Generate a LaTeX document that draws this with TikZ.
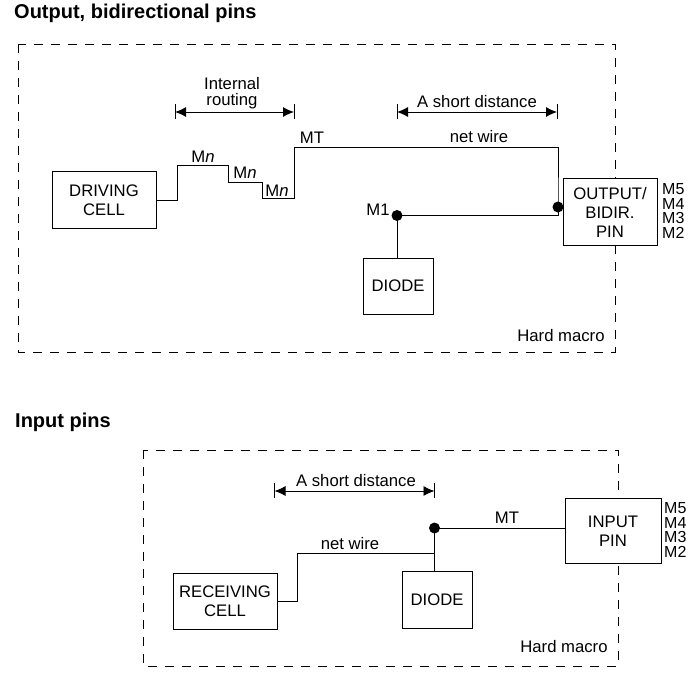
\documentclass[tikz,border=0pt]{standalone}
\usepackage{fontspec}
\setmainfont{Liberation Sans}
\usetikzlibrary{arrows.meta,calc}
\tikzset{
  block/.style={draw,fill=white,line width=0.9pt,align=center,inner sep=0pt,font=\fontsize{16.7}{19}\selectfont},
  wire/.style={line width=0.9pt},
  frameline/.style={line width=1pt,dash pattern=on 9pt off 8pt},
  span/.style={line width=0.9pt,{Latex[length=11pt,width=10pt]}-{Latex[length=11pt,width=10pt]}},
  spantick/.style={line width=0.7pt},
  lbl/.style={inner sep=0pt,yshift=-1pt,font=\fontsize{16.7}{16.5}\selectfont,align=center},
  metals/.style={inner sep=0pt,anchor=west,align=left,font=\fontsize{16}{14.8}\selectfont},
  heading/.style={inner sep=0pt,anchor=west,font=\fontsize{20}{22}\selectfont\bfseries},
  via/.style={circle,fill=black,inner sep=0pt,minimum size=11pt}
}
\begin{document}
\begin{tikzpicture}[x=1pt,y=-1pt]
      \useasboundingbox (0,0) rectangle (697,673);
      \node[heading] (titleout) at (14,13) {Output, bidirectional pins};
      \node[heading] (titlein) at (15,422) {Input pins};
      % top picture
      \draw[frameline] (18,44) rectangle (615,352);
      \node[block,minimum width=104pt,minimum height=57pt] (driving) at (104,200) {DRIVING\\CELL};
      \node[block,minimum width=94pt,minimum height=67pt] (outpin) at (610,212) {OUTPUT/\\BIDIR.\\PIN};
      \node[block,minimum width=70pt,minimum height=56pt] (diodea) at (398,286) {DIODE};
      \node[via] (viam1) at (397,215.5) {};
      \node[via] (viapin) at (558,207) {};
      \coordinate (netcorner) at (558,215.5);
      \draw[wire] (driving.east) -- (177,200) -- (177,165) -- (228,165) -- (228,182) -- (262,182) -- (262,198) -- (294,198) -- (294,147) -- (558,147) -- (viapin.center) -- (netcorner);
      \draw[wire] (viam1.center) -- (netcorner);
      \draw[wire] (viam1.center) -- (viam1.center |- diodea.north);
      \coordinate (inta) at (175,112);
      \coordinate (intb) at (294,112);
      \coordinate (shorta) at (397,112);
      \coordinate (shortb) at (557,112);
      \draw[span] (inta) -- (intb);
      \draw[span] (shorta) -- (shortb);
      \foreach \p in {inta,intb,shorta,shortb}
        \draw[spantick] ($(\p)+(0,-8)$) -- ($(\p)+(0,7)$);
      \node[lbl] (lblint) at (232,92) {Internal\\routing};
      \node[lbl] (lblshorta) at (477,101) {A short distance};
      \node[lbl] (lblnet) at (479,136) {net wire};
      \node[lbl] (lblmt) at (312,137) {MT};
      \node[lbl] (lblmna) at (203,156) {M\textit{n}};
      \node[lbl] (lblmnb) at (245,172) {M\textit{n}};
      \node[lbl] (lblmnc) at (277,190) {M\textit{n}};
      \node[lbl] (lblmone) at (378,209) {M1};
      \node[lbl] (lblmacroa) at (561,335) {Hard macro};
      \node[metals] (metalsa) at (662,211) {M5\\M4\\M3\\M2};
      % bottom picture
      \draw[frameline] (143,450) rectangle (618,666);
      \node[block,minimum width=104pt,minimum height=56pt] (receiving) at (225,601) {RECEIVING\\CELL};
      \node[block,minimum width=70pt,minimum height=57pt] (diodeb) at (437,600) {DIODE};
      \node[block,minimum width=96pt,minimum height=65pt] (inpin) at (613,531) {INPUT\\PIN};
      \node[via] (viab) at (434.5,528) {};
      \coordinate (netbend) at (434.5,553);
      \draw[wire] (receiving.east) -- (297,601) -- (297,553) -- (netbend);
      \draw[wire] (viab.center) -- (viab.center |- diodeb.north);
      \draw[wire] (viab.center) -- (viab.center -| inpin.west);
      \coordinate (shortc) at (274.5,491);
      \coordinate (shortd) at (434.5,491);
      \draw[span] (shortc) -- (shortd);
      \foreach \p in {shortc,shortd}
        \draw[spantick] ($(\p)+(0,-8)$) -- ($(\p)+(0,7)$);
      \node[lbl] (lblshortb) at (356,480) {A short distance};
      \node[lbl] (lblnetb) at (350,543) {net wire};
      \node[lbl] (lblmtb) at (507,517) {MT};
      \node[lbl] (lblmacrob) at (564,646) {Hard macro};
      \node[metals] (metalsb) at (664,530) {M5\\M4\\M3\\M2};
    \end{tikzpicture}
\end{document}
